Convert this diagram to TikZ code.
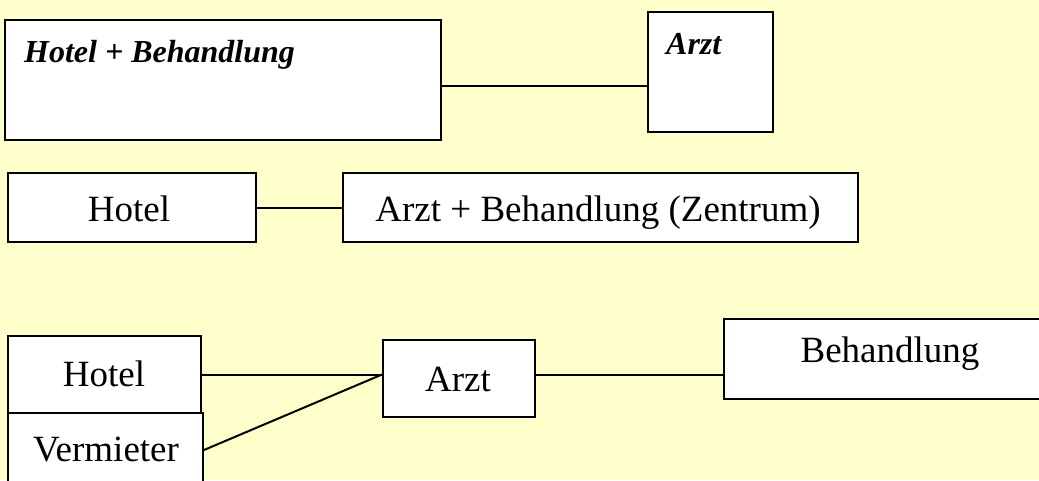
\documentclass[tikz,border=0pt]{standalone}
\usepackage{fontspec}
\setmainfont{Liberation Serif}
\definecolor{paper}{HTML}{FFFFCC}
\begin{document}
\begin{tikzpicture}[x=1pt,y=-1pt,
  box/.style={draw=black, fill=white, line width=2pt, inner sep=0pt, anchor=north west},
  wire/.style={draw=black, line width=2pt},
  plain/.style={font=\fontsize{37}{40}\selectfont, anchor=base, inner sep=0pt},
  emph/.style={font=\fontsize{32}{36}\selectfont\bfseries\itshape, anchor=base west, inner sep=0pt}]
\useasboundingbox (0,0) rectangle (1039,480);
\clip (0,0) rectangle (1039,480);
\fill[paper] (0,0) rectangle (1039,480);

% first variant: hotel with treatment, separate doctor
\node[box, minimum width=436pt, minimum height=120pt] (hb) at (4,19) {};
\node[box, minimum width=125pt, minimum height=120pt] (arzt1) at (647,11) {};
\draw[wire] ([yshift=-6pt]hb.east) -- ([yshift=-6pt]hb.east -| arzt1.west);
\node[emph] (t-hb) at (24,62) {Hotel + Behandlung};
\node[emph] (t-arzt1) at (666,54) {Arzt};

% second variant: hotel plus treatment centre
\node[box, minimum width=248pt, minimum height=69pt] (hotel2) at (7,172) {};
\node[box, minimum width=515pt, minimum height=69pt] (zentrum) at (342,172) {};
\draw[wire] (hotel2.east) -- (zentrum.west);
\node[plain] (t-hotel2) at (129,221) {Hotel};
\node[plain] (t-zentrum) at (598,221) {Arzt + Behandlung (Zentrum)};

% third variant: hotel or landlord, doctor, treatment
\node[box, minimum width=193pt, minimum height=77pt] (hotel3) at (7,335) {};
\node[box, minimum width=195pt, minimum height=74pt] (verm) at (7,412) {};
\node[box, minimum width=152pt, minimum height=77pt] (arzt3) at (382,339) {};
\node[box, minimum width=330pt, minimum height=80pt] (behand) at (723,318) {};
\draw[wire] (hotel3.east) -- (hotel3.east -| arzt3.west);
\draw[wire] (verm.east) -- (hotel3.east -| arzt3.west);
\draw[wire] (hotel3.east -| arzt3.east) -- (hotel3.east -| behand.west);
\node[plain] (t-hotel3) at (104,386) {Hotel};
\node[plain] (t-verm) at (106,461) {Vermieter};
\node[plain] (t-arzt3) at (458,391) {Arzt};
\node[plain] (t-behand) at (890,362) {Behandlung};
\end{tikzpicture}
\end{document}
